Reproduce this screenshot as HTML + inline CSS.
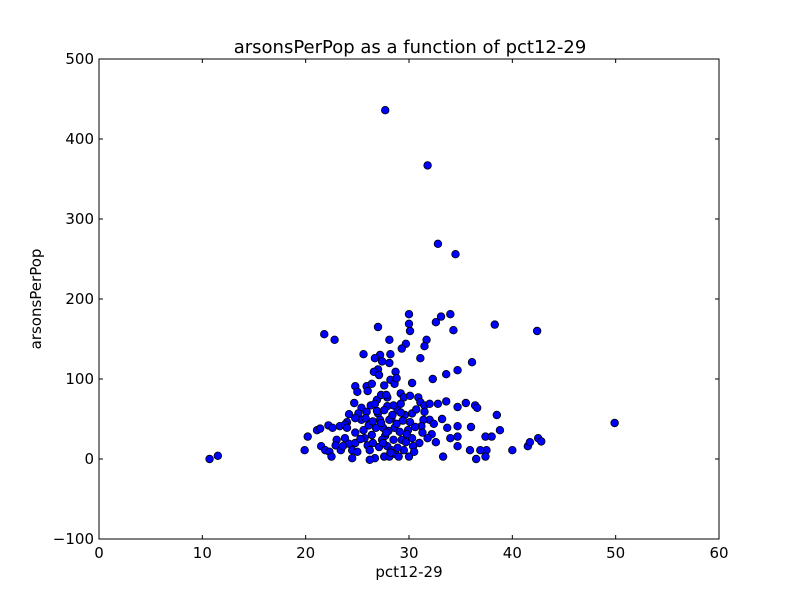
<!DOCTYPE html>
<html><head><meta charset="utf-8"><style>
body{margin:0;background:#fff;}
svg text{font-family:"DejaVu Sans","Liberation Sans",sans-serif;fill:#000;}
</style></head><body>
<svg id="chart" width="800" height="600" xmlns="http://www.w3.org/2000/svg">
<rect x="0" y="0" width="800" height="600" fill="#fff"/>
<text x="410" y="53" font-size="18" text-anchor="middle">arsonsPerPop as a function of pct12-29</text>
<text x="409" y="577" font-size="15" text-anchor="middle">pct12-29</text>
<text x="41" y="299" font-size="15" text-anchor="middle" transform="rotate(-90 41 299)">arsonsPerPop</text>
<g id="ticks"></g>
<g id="points"></g>
<rect x="99" y="59" width="620" height="480" fill="none" stroke="#000" stroke-width="1"/>
</svg>
<script>
const xTicks=[0,10,20,30,40,50,60];
const yTicks=[-100,0,100,200,300,400,500];
const xs=[27.7,31.8,32.8,34.5,10.7,11.5,49.9,19.9,20.2,21.8,22.8,38.3,42.4,30,34,33.1,32.6,34.3,30,30.1,29.7,29.3,31.7,31.5,31.1,36.1,32.3,33.6,34.7,30.3,27,28.1,27.2,28.2,25.6,26.7,27.4,28.1,27,26.6,27.1,28.7,24.8,25,25.9,26.4,26,29.2,28.2,27.6,28.6,24.7,25.4,24.2,25.1,25.9,26.3,26.9,27.3,27.9,29.5,30.1,30.9,31.1,31.5,32,32.8,33.6,34.7,35.5,36.4,36,35.9,34.7,34.7,34.7,36.6,38.5,38.8,37.4,38,37.5,37.4,36.5,36.9,40,41.5,41.7,42.5,42.8,34,33.7,33.2,33.3,32.6,32.2,32,31.5,31.4,31.2,31.8,31,21.1,21.4,21.5,21.9,22.2,22.6,22.3,22.5,23,22.9,23.4,23.8,23.3,24,23.8,24.2,24.5,24.8,24.5,25,23.6,25.4,25.6,25.7,26,26.2,26.7,26.5,26.4,26.1,25.8,27,27.2,27.5,27.7,27.9,27.6,28.1,28.3,28.5,28.6,28.3,28.9,28.8,29.1,29.3,28.7,29,29.5,29.7,29.9,30.1,30.3,30.3,30.4,30,30.5,27.9,27.6,28.5,26.7,26.8,27.4,27.1,26.2,24.8,24,24.8,29.2,29.6,28.1,27.8,28.8,27.3,28,28.4,29.4,27.5,26.9,28.2,29.8,30.6,25.3,26.5,27.8,28.9,29.2,30.7,31.3,32.4];
const ys=[436,367,269,256,0,4,45,11,28,156,149,168,160,181,181,178,171,161,169,160,144,138,149,141,126,121,100,106,111,95,165,149,130,131,131,126,122,120,112,109,105,109,91,84,91,94,85,82,99,92,94,70,64,56,57,59,67,74,80,77,77,79,77,71,67,69,69,72,65,70,67,40,11,41,28,16,64,55,36,28,28,11,3,0,11,11,16,21,26,22,26,39,50,3,21,31,49,59,49,41,26,20,36,38,16,11,42,39,9,3,24,17,11,26,41,46,43,19,11,20,1,9,16,49,36,26,17,11,1,20,30,42,51,57,49,39,29,16,3,3,11,24,39,51,61,44,34,24,6,3,11,21,36,46,57,26,16,3,9,66,61,67,69,39,24,15,-1,33,39,51,69,55,49,80,101,45,35,55,48,20,60,8,31,40,25,47,33,14,58,62,33,44];
const L=99,R=719,T=59,B=539;
const xS=v=>L+(v-0)/(60-0)*(R-L);
const yS=v=>B-(v+100)/600*(B-T);
const NS="http://www.w3.org/2000/svg";
const tg=document.getElementById('ticks');
function mk(tag,attrs,parent){const e=document.createElementNS(NS,tag);for(const k in attrs)e.setAttribute(k,attrs[k]);parent.appendChild(e);return e;}
xTicks.forEach(t=>{const x=xS(t);
 const a=mk('line',{x1:x,x2:x,y1:B,y2:B-4,stroke:'#000'},tg);
 
 
 const b=mk('line',{x1:x,x2:x,y1:T,y2:T+4,stroke:'#000'},tg);
 
 
 const tx=mk('text',{x:x,y:B+19,'font-size':15,'text-anchor':'middle'},tg);tx.textContent=t;
 
 
});
yTicks.forEach(t=>{const y=yS(t);
 const a=mk('line',{x1:L,x2:L+4,y1:y,y2:y,stroke:'#000'},tg);
 
 
 const b=mk('line',{x1:R,x2:R-4,y1:y,y2:y,stroke:'#000'},tg);
 
 
 const tx=mk('text',{x:L-5,y:y+5,'font-size':15,'text-anchor':'end'},tg);tx.textContent=(t<0?'\u2212'+(-t):t);
 
 
});
const pg=document.getElementById('points');
xs.forEach((v,i)=>{
 const c=mk('circle',{cx:xS(v),cy:yS(ys[i]),r:3.8,fill:'#0000ff',stroke:'#000','stroke-width':0.8},pg);
 
 
});
</script>
</body></html>
